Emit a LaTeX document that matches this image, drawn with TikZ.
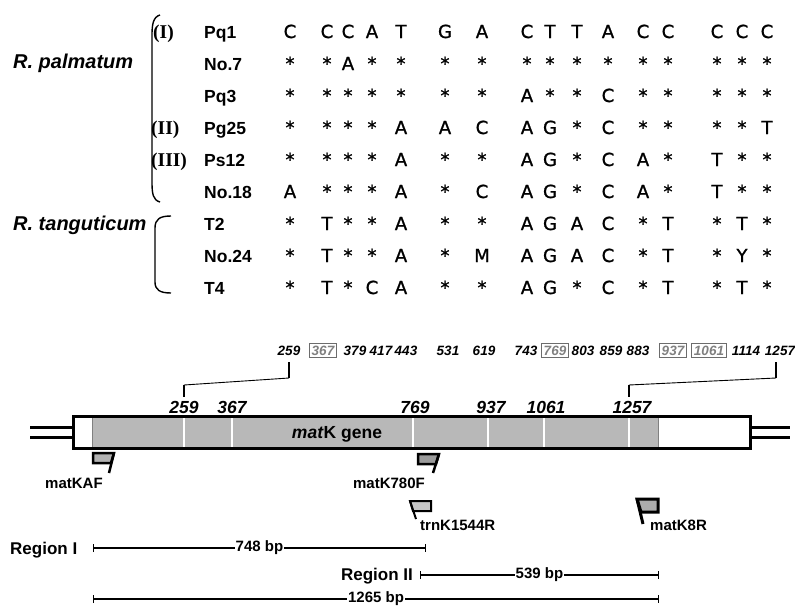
\documentclass[tikz,border=0pt]{standalone}
\usepackage{fontspec}
\setmainfont{Liberation Sans}
\newfontfamily\seqfont[FakeBold=1.2]{DejaVu Sans}
\newfontfamily\romfont{Liberation Serif}
\usetikzlibrary{arrows.meta}
\definecolor{genegray}{HTML}{B8B8B8}
\tikzset{
  lbl/.style={font=\bfseries\fontsize{17.5}{20}\selectfont, anchor=base west, inner sep=0pt},
  seqch/.style={font=\seqfont\fontsize{18}{20}\selectfont, anchor=base, inner sep=0pt},
  rom/.style={font=\romfont\bfseries\fontsize{19.5}{22}\selectfont, anchor=base west, inner sep=0pt},
  spec/.style={font=\bfseries\itshape\fontsize{20}{22}\selectfont, anchor=base west, inner sep=0pt},
  posn/.style={font=\bfseries\itshape\fontsize{13.5}{15}\selectfont, anchor=base, inner sep=0pt},
  posbox/.style={posn, text=gray, draw=gray!85!black, line width=1pt, inner xsep=2.5pt, inner ysep=2.5pt},
  gnum/.style={font=\bfseries\itshape\fontsize{17.5}{20}\selectfont, anchor=base, inner sep=0pt},
  plbl/.style={font=\bfseries\fontsize{15}{17}\selectfont, inner sep=0pt},
  reg/.style={font=\bfseries\fontsize{17}{20}\selectfont, inner sep=0pt},
  bp/.style={font=\bfseries\fontsize{15}{17}\selectfont, fill=white, inner xsep=1pt, inner ysep=0pt},
  brack/.style={line width=1.4pt},
  primer/.style={line width=2.5pt, line join=miter},
  sepline/.style={white, line width=1.8pt},
  regline/.style={line width=1.4pt, {Bar[width=8pt]}-{Bar[width=8pt]}},
  tick/.style={line width=1.5pt},
}
\begin{document}
\begin{tikzpicture}[x=1pt,y=-1pt]
\useasboundingbox (0,0) rectangle (795,608);

% ---------- species and brackets ----------
\node[spec] (palm) at (13,68) {R. palmatum};
\node[spec] (tang) at (13,230) {R. tanguticum};
\draw[brack] (160,15) .. controls (153,17) and (152,25) .. (152,35) -- (152,182) .. controls (152,194) and (153,200) .. (160,202);
\draw[brack] (171,216) .. controls (160,216) and (155,219) .. (155,228) -- (155,282) .. controls (155,290) and (160,293) .. (171,293);

\node[rom] (r1) at (153,38) {(I)};
\node[rom] (r2) at (151,134) {(II)};
\node[rom] (r3) at (151,166) {(III)};

% ---------- sample labels ----------
\foreach \lab [count=\i from 0] in {Pq1,No.7,Pq3,Pg25,Ps12,No.18,T2,No.24,T4}{
  \node[lbl] (lab\i) at (204,38+32*\i) {\lab};
}

% ---------- sequence table ----------
\def\xs{290,327,348,372,401,445,482,527,550,577,608,643,668,717,742,767}
\foreach \row [count=\i from 0] in {
  {C,C,C,A,T,G,A,C,T,T,A,C,C,C,C,C},
  {*,*,A,*,*,*,*,*,*,*,*,*,*,*,*,*},
  {*,*,*,*,*,*,*,A,*,*,C,*,*,*,*,*},
  {*,*,*,*,A,A,C,A,G,*,C,*,*,*,*,T},
  {*,*,*,*,A,*,*,A,G,*,C,A,*,T,*,*},
  {A,*,*,*,A,*,C,A,G,*,C,A,*,T,*,*},
  {*,T,*,*,A,*,*,A,G,A,C,*,T,*,T,*},
  {*,T,*,*,A,*,M,A,G,A,C,*,T,*,Y,*},
  {*,T,*,C,A,*,*,A,G,*,C,*,T,*,T,*}}{
  \foreach \ch [count=\j from 1] in \row {
    \pgfmathsetmacro{\xx}{{\xs}[\j-1]}
    \node[seqch] (s\i-\j) at (\xx,38+32*\i) {\ch};
  }
}

% ---------- positions row ----------
\node[posn] (p259) at (289,355) {259};
\node[posbox] (p367) at (323,355) {367};
\node[posn] (p379) at (355,355) {379};
\node[posn] (p417) at (381,355) {417};
\node[posn] (p443) at (406,355) {443};
\node[posn] (p531) at (448,355) {531};
\node[posn] (p619) at (484,355) {619};
\node[posn] (p743) at (526,355) {743};
\node[posbox] (p769) at (555,355) {769};
\node[posn] (p803) at (583,355) {803};
\node[posn] (p859) at (611,355) {859};
\node[posn] (p883) at (638,355) {883};
\node[posbox] (p937) at (673,355) {937};
\node[posbox] (p1061) at (709,355) {1061};
\node[posn] (p1114) at (746,355) {1114};
\node[posn] (p1257) at (780,355) {1257};

% zoom connectors
\coordinate (za1) at (289,362); \coordinate (za2) at (289,378);
\coordinate (za3) at (184,385); \coordinate (za4) at (184,397);
\coordinate (zb1) at (776,362); \coordinate (zb2) at (776,378);
\coordinate (zb3) at (629,385); \coordinate (zb4) at (629,397);
\draw[tick] (za1) -- (za2); \draw[line width=0.9pt] (za2) -- (za3); \draw[tick] (za3) -- (za4);
\draw[tick] (zb1) -- (zb2); \draw[line width=0.9pt] (zb2) -- (zb3); \draw[tick] (zb3) -- (zb4);

% ---------- gene ----------
\draw[line width=3pt] (30,427) -- (73,427) (30,437) -- (73,437);
\draw[line width=3pt] (750,427) -- (790,427) (750,437) -- (790,437);
\fill[white] (73,416) rectangle (750,448);
\fill[genegray] (92,416) rectangle (658,448);
\draw[gray, line width=0.6pt] (92,416) -- (92,448) (658,416) -- (658,448);
\draw[sepline, line width=1.2pt] (184,417) -- (184,447);
\draw[sepline] (232,417) -- (232,447);
\draw[sepline] (413,417) -- (413,447);
\draw[sepline] (488,417) -- (488,447);
\draw[sepline] (544,417) -- (544,447);
\draw[sepline, line width=1.2pt] (629,417) -- (629,447);
\node[draw, line width=3pt, minimum width=677pt, minimum height=32pt, inner sep=0pt] (gene) at (411.5,432) {};
\node[font=\bfseries\fontsize{17.5}{20}\selectfont, anchor=base, inner sep=0pt] (gname) at (337,438) {\textit{mat}K gene};

\node[gnum] (g259) at (184,413) {259};
\node[gnum] (g367) at (232,413) {367};
\node[gnum] (g769) at (415,413) {769};
\node[gnum] (g937) at (491,413) {937};
\node[gnum] (g1061) at (546,413) {1061};
\node[gnum] (g1257) at (632,413) {1257};

% ---------- primers ----------
\filldraw[primer, fill=gray!60] (93,453) -- (114,453) -- (111,463) -- (93,463) -- cycle;
\draw[primer] (114,453) -- (109,473);
\node[plbl, anchor=base] (pAF) at (74,488) {matKAF};

\filldraw[primer, fill=gray!95!black!75] (418,454) -- (439,454) -- (436,464) -- (418,464) -- cycle;
\draw[primer] (439,454) -- (433,473);
\node[plbl, anchor=base] (p780) at (389,488) {matK780F};

\filldraw[primer, line width=2pt, fill=gray!45] (410,501) -- (431,501) -- (431,511) -- (413,511) -- cycle;
\draw[primer, line width=2pt] (410,501) -- (416,519);
\node[plbl, anchor=base west] (p1544) at (420,530) {trnK1544R};

\filldraw[primer, line width=3pt, fill=gray!65] (637,499) -- (658,499) -- (658,512) -- (641,512) -- cycle;
\draw[primer, line width=3pt] (637,499) -- (643,524);
\node[plbl, anchor=base west] (p8R) at (650,530) {matK8R};

% ---------- regions ----------
\node[reg, anchor=base west] (regI) at (10,554) {Region I};
\coordinate (r1a) at (93,548); \coordinate (r1b) at (426,548);
\draw[regline] (r1a) -- node[bp] (bp1) {748 bp} (r1b);

\node[reg, anchor=base east] (regII) at (413,580) {Region II};
\coordinate (r2a) at (420,575); \coordinate (r2b) at (659,575);
\draw[regline] (r2a) -- node[bp] (bp2) {539 bp} (r2b);

\coordinate (r3a) at (93,599); \coordinate (r3b) at (659,599);
\draw[regline] (r3a) -- node[bp] (bp3) {1265 bp} (r3b);
\end{tikzpicture}
\end{document}
